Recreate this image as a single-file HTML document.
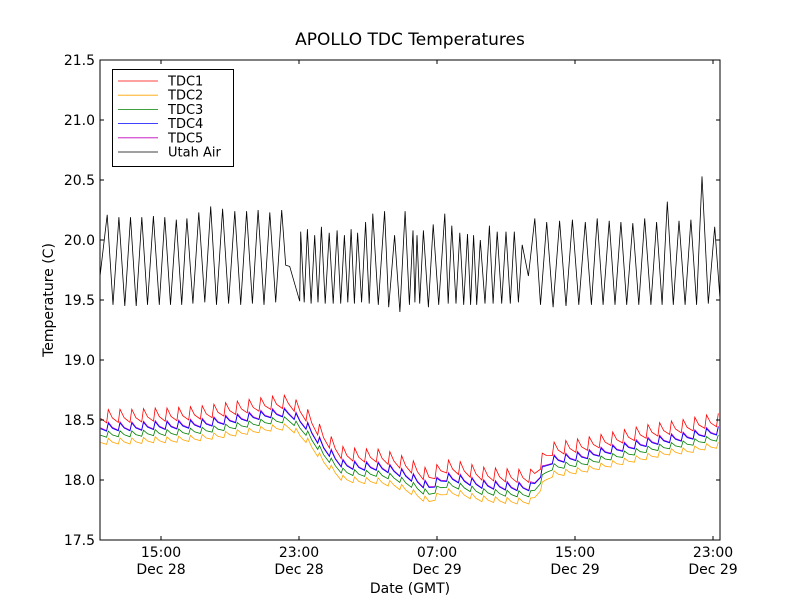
<!DOCTYPE html>
<html><head><meta charset="utf-8"><style>
body{margin:0;background:#fff}
svg{display:block}
text{font-family:"DejaVu Sans","Liberation Sans",sans-serif;fill:#000}
</style></head><body>
<svg id="chart" width="800" height="600" xmlns="http://www.w3.org/2000/svg">
<rect width="800" height="600" fill="#fff"/>
<text x="410" y="45" font-size="17" text-anchor="middle">APOLLO TDC Temperatures</text>
<g id="plot"></g>
<g id="axes"></g>
<text x="410" y="593" font-size="14" text-anchor="middle">Date (GMT)</text>
<text x="0" y="0" font-size="14" text-anchor="middle" transform="translate(53,300) rotate(-90)">Temperature (C)</text>
<g id="legend"></g>
</svg>
<script>
const seriesNames=["TDC1","TDC2","TDC3","TDC4","TDC5","Utah Air"];
const seriesColors=["#ff0000","#ffa500","#008000","#0000ff","#bf00bf","#000000"];
const yTicks=[17.5,18.0,18.5,19.0,19.5,20.0,20.5,21.0,21.5];
const xTickHours=[15,23,31,39,47];
const xTickTimes=["15:00","23:00","07:00","15:00","23:00"];
const xTickDates=["Dec 28","Dec 28","Dec 29","Dec 29","Dec 29"];
const trendHours=[11.5,12.5,13.5,14.5,15.5,16.5,17.5,18.5,19.5,20.5,21.5,22.5,23.5,24.5,25.5,26.5,27.5,28.5,29.5,30.5,31.5,32.5,33.5,34.5,35.5,36.5,37.5,38.5,39.5,40.5,41.5,42.5,43.5,44.5,45.5,46.5,47.5];
const tdc1=[18.475,18.48,18.48,18.49,18.49,18.5,18.51,18.53,18.55,18.57,18.59,18.6,18.48,18.3,18.17,18.15,18.15,18.12,18.06,17.98,18.06,18.04,18.0,17.99,17.98,17.98,18.2,18.22,18.24,18.27,18.3,18.33,18.36,18.38,18.4,18.43,18.45];
const tdc2=[18.295,18.3,18.3,18.31,18.31,18.32,18.33,18.35,18.37,18.39,18.41,18.42,18.3,18.12,17.99,17.97,17.97,17.94,17.88,17.8,17.88,17.86,17.82,17.81,17.8,17.8,18.02,18.04,18.06,18.09,18.12,18.15,18.18,18.21,18.22,18.25,18.27];
const tdc3=[18.355,18.36,18.36,18.37,18.37,18.38,18.39,18.41,18.43,18.45,18.47,18.48,18.36,18.18,18.05,18.03,18.03,18.0,17.94,17.86,17.94,17.92,17.88,17.87,17.86,17.86,18.08,18.1,18.12,18.15,18.18,18.21,18.24,18.26,18.28,18.31,18.33];
const tdc4=[18.405,18.41,18.41,18.42,18.42,18.43,18.44,18.46,18.48,18.5,18.52,18.53,18.41,18.23,18.1,18.08,18.08,18.05,17.99,17.91,17.99,17.97,17.93,17.92,17.91,17.91,18.13,18.15,18.17,18.2,18.23,18.26,18.29,18.31,18.33,18.36,18.38];
const tdc5=[18.41,18.415,18.415,18.425,18.425,18.435,18.445,18.465,18.485,18.505,18.525,18.535,18.415,18.235,18.105,18.085,18.085,18.055,17.995,17.915,17.995,17.975,17.935,17.925,17.915,17.915,18.135,18.155,18.175,18.205,18.235,18.265,18.295,18.315,18.335,18.365,18.385];
const rippleAmp=[0.11,0.05,0.05,0.065,0.07];
const airT=[11.46,11.88,12.22,12.56,12.9,13.23,13.56,13.89,14.22,14.56,14.9,15.22,15.55,15.89,16.2,16.5,16.85,17.19,17.54,17.88,18.22,18.57,18.92,19.28,19.62,19.96,20.3,20.63,20.97,21.31,21.65,22.0,22.23,22.46,23.04,23.10,23.3,23.49,23.7,23.91,24.1,24.3,24.52,24.75,24.98,25.21,25.42,25.63,25.83,26.02,26.21,26.4,26.63,26.86,27.07,27.28,27.6,27.96,28.2,28.54,28.85,29.15,29.4,29.61,29.72,29.84,30.0,30.21,30.5,30.78,31.1,31.45,31.65,31.86,32.1,32.32,32.55,32.77,32.95,33.12,33.3,33.51,33.78,34.04,34.25,34.49,34.75,35.0,35.25,35.48,35.72,35.94,36.3,36.67,37.0,37.36,37.73,38.11,38.48,38.85,39.22,39.6,39.95,40.29,40.63,40.98,41.32,41.66,42.0,42.35,42.7,43.04,43.4,43.73,44.05,44.35,44.7,45.03,45.38,45.72,46.05,46.36,46.73,47.1,47.4];
const airV=[19.69,20.21,19.46,20.19,19.45,20.19,19.45,20.19,19.46,20.2,19.46,20.19,19.46,20.17,19.46,20.18,19.47,20.23,19.48,20.28,19.46,20.26,19.47,20.24,19.46,20.24,19.47,20.25,19.46,20.23,19.48,20.25,19.79,19.78,19.49,20.07,19.48,20.09,19.47,20.04,19.48,20.11,19.47,20.06,19.47,20.08,19.47,20.04,19.48,20.09,19.47,20.06,19.48,20.15,19.47,20.22,19.46,20.24,19.44,20.04,19.40,20.24,19.46,20.08,19.48,20.04,19.47,20.08,19.44,20.13,19.46,20.22,19.47,20.12,19.47,20.06,19.46,20.05,19.46,20.04,19.46,20.0,19.47,20.12,19.47,20.07,19.47,20.07,19.47,20.07,19.48,19.96,19.70,20.18,19.46,20.15,19.44,20.16,19.45,20.17,19.46,20.15,19.46,20.18,19.46,20.16,19.46,20.15,19.46,20.14,19.46,20.18,19.46,20.15,19.46,20.32,19.46,20.16,19.46,20.17,19.46,20.53,19.47,20.11,19.52];

const NS="http://www.w3.org/2000/svg";
const L=100,R=720,T=60,B=540;
const tMin=11.464,tMax=47.406,yMin=17.5,yMax=21.5;
const xs=t=>L+(t-tMin)/(tMax-tMin)*(R-L);
const ys=v=>B-(v-yMin)/(yMax-yMin)*(B-T);
function mk(tag,attrs,parent){const e=document.createElementNS(NS,tag);for(const k in attrs)e.setAttribute(k,attrs[k]);parent.appendChild(e);return e;}
function trendAt(arr,t){
  if(t<=trendHours[0])return arr[0];
  for(let i=1;i<trendHours.length;i++){if(t<=trendHours[i]){const f=(t-trendHours[i-1])/(trendHours[i]-trendHours[i-1]);return arr[i-1]+f*(arr[i]-arr[i-1]);}}
  return arr[arr.length-1];
}
const plot=document.getElementById('plot');
const tdcs=[tdc1,tdc2,tdc3,tdc4,tdc5];
const period=0.68;
// draw TDC series (order: 2,3,5,4,1 similar stacking)
[1,2,4,3,0].forEach(si=>{
  const arr=tdcs[si],amp=rippleAmp[si];
  const pts=[];
  for(let c=tMin-0.3;c<tMax;c+=period){
    [[0,0],[0.15,1],[0.5,0.35],[1,0]].forEach(([f,a])=>{
      const t=c+f*period;if(t<tMin||t>tMax)return;
      pts.push(xs(t).toFixed(1)+","+ys(trendAt(arr,t)+a*amp).toFixed(1));
    });
  }
  const p=mk('polyline',{points:pts.join(" "),fill:"none",stroke:seriesColors[si],"stroke-width":0.8},plot);
  
  
});
{
  const pts=airT.map((t,i)=>xs(t).toFixed(1)+","+ys(airV[i]).toFixed(1));
  const p=mk('polyline',{points:pts.join(" "),fill:"none",stroke:"#000","stroke-width":0.8},plot);
  
  
}
const ax=document.getElementById('axes');
mk('rect',{x:L,y:T,width:R-L,height:B-T,fill:"none",stroke:"#000","stroke-width":1},ax);
yTicks.forEach(v=>{
  const y=ys(v);
  mk('line',{x1:L,x2:L+4,y1:y,y2:y,stroke:"#000"},ax);
  mk('line',{x1:R,x2:R-4,y1:y,y2:y,stroke:"#000"},ax);
  const tx=mk('text',{x:L-5,y:y+5,"font-size":14,"text-anchor":"end"},ax);
  tx.textContent=v.toFixed(1);
  
  
});
xTickHours.forEach((h,i)=>{
  const x=xs(h);
  mk('line',{x1:x,x2:x,y1:B,y2:B-4,stroke:"#000"},ax);
  mk('line',{x1:x,x2:x,y1:T,y2:T+4,stroke:"#000"},ax);
  const t1=mk('text',{x:x,y:B+17,"font-size":14,"text-anchor":"middle"},ax);
  t1.textContent=xTickTimes[i];
  
  
  const t2=mk('text',{x:x,y:B+34,"font-size":14,"text-anchor":"middle"},ax);
  t2.textContent=xTickDates[i];
  
  
});
const lg=document.getElementById('legend');
mk('rect',{x:112.5,y:69.5,width:121,height:97,fill:"#fff",stroke:"#000"},lg);
seriesNames.forEach((n,i)=>{
  const y=81+i*14.2;
  mk('line',{x1:118,x2:158,y1:y,y2:y,stroke:seriesColors[i],"stroke-width":0.8},lg);
  const t=mk('text',{x:168,y:y+4.5,"font-size":13},lg);
  t.textContent=n;
  
  
});
</script>
</body></html>
